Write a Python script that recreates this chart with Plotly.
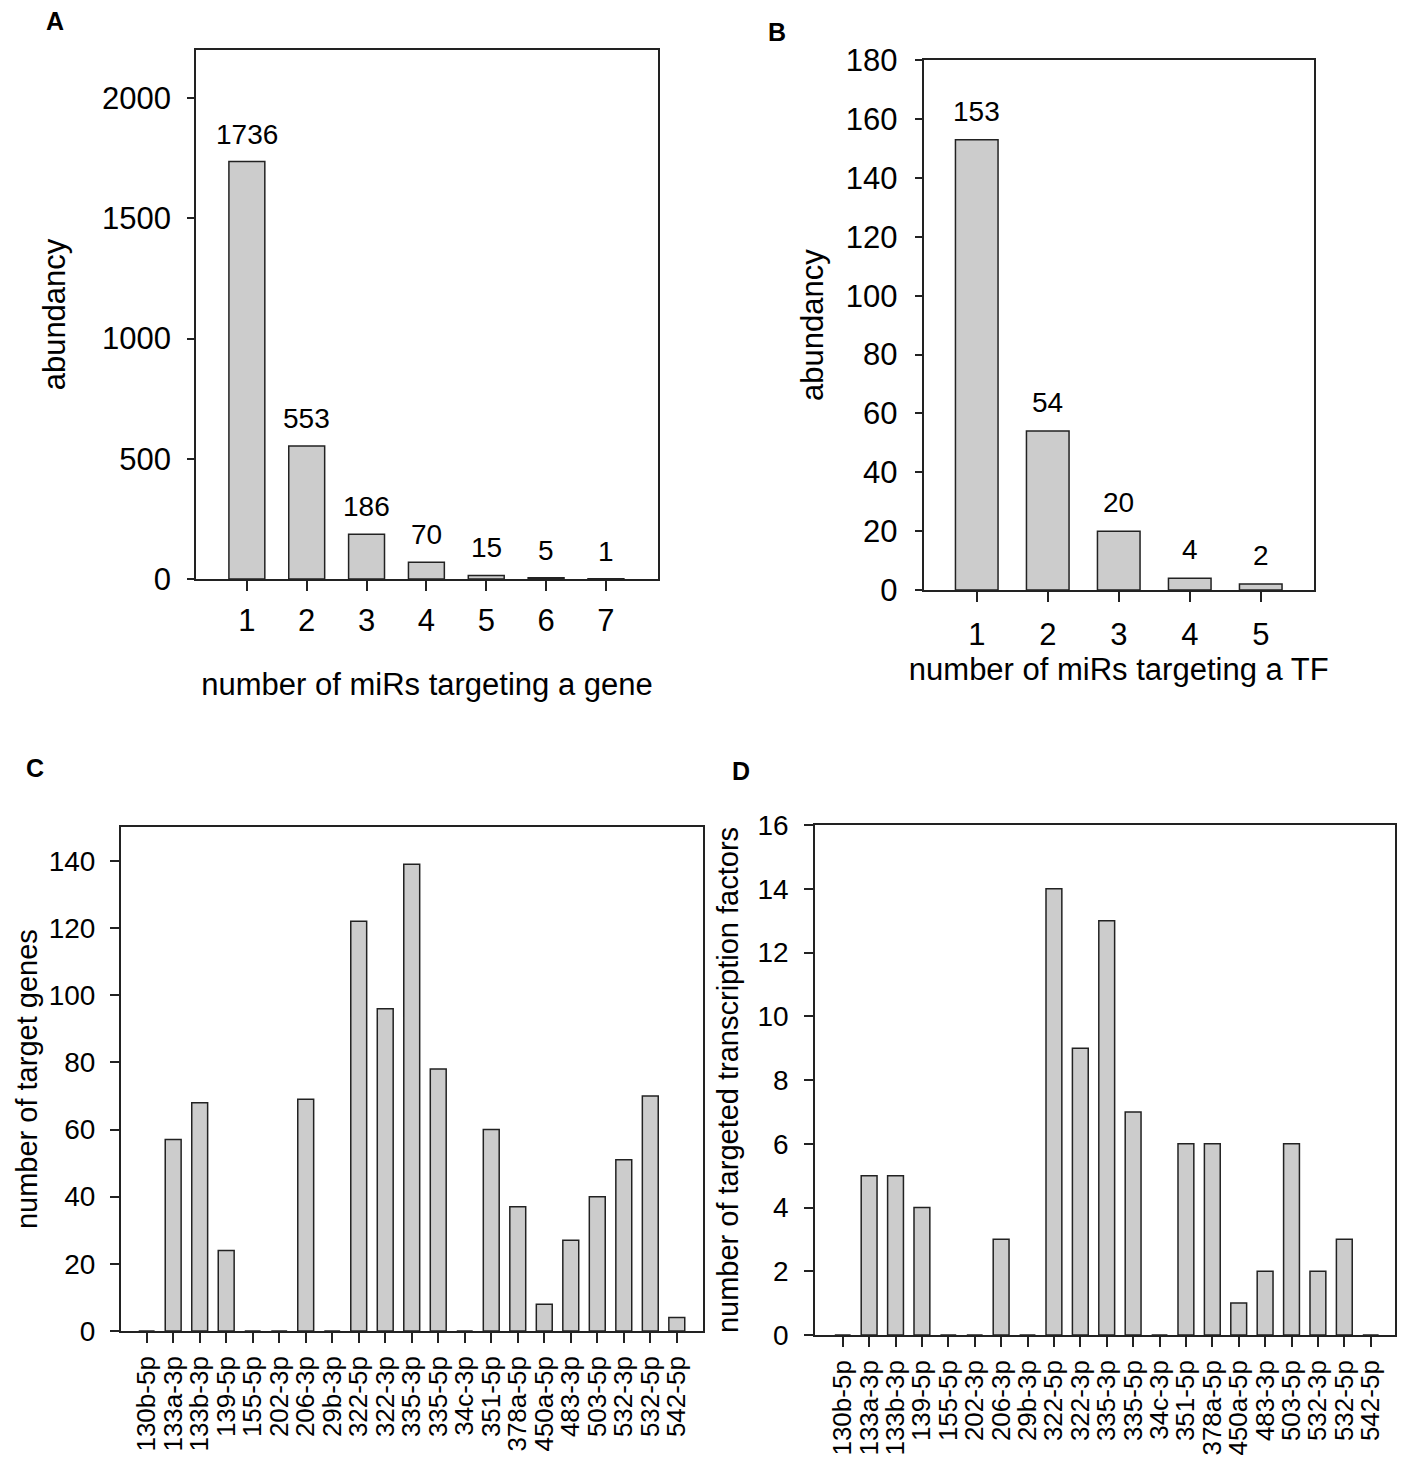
import plotly.graph_objects as go

# ---------------- data ----------------
a_x = [1, 2, 3, 4, 5, 6, 7]
a_y = [1736, 553, 186, 70, 15, 5, 1]

b_x = [1, 2, 3, 4, 5]
b_y = [153, 54, 20, 4, 2]

mirs = ["130b-5p", "133a-3p", "133b-3p", "139-5p", "155-5p", "202-3p", "206-3p",
        "29b-3p", "322-5p", "322-3p", "335-3p", "335-5p", "34c-3p", "351-5p",
        "378a-5p", "450a-5p", "483-3p", "503-5p", "532-3p", "532-5p", "542-5p"]
c_genes = [0, 57, 68, 24, 0, 0, 69, 0, 122, 96, 139, 78, 0, 60, 37, 8, 27, 40, 51, 70, 4]
d_tfs = [0, 5, 5, 4, 0, 0, 3, 0, 14, 9, 13, 7, 0, 6, 6, 1, 2, 6, 2, 3, 0]

# ---------------- styling ----------------
W, H = 1401, 1460
FONT = "Arial, Liberation Sans, sans-serif"
BAR_FILL = "#cccccc"
LINE = "#222222"


def xd(l, r):
    return [l / W, r / W]


def yd(t, b):
    return [1 - b / H, 1 - t / H]


fig = go.Figure()

bar_style = dict(marker=dict(color=BAR_FILL, line=dict(color=LINE, width=1.5)),
                 width=0.6, showlegend=False, hoverinfo="x+y")

fig.add_trace(go.Bar(x=a_x, y=a_y, xaxis="x", yaxis="y", **bar_style))
fig.add_trace(go.Bar(x=b_x, y=b_y, xaxis="x2", yaxis="y2", **bar_style))
fig.add_trace(go.Bar(x=mirs, y=c_genes, xaxis="x3", yaxis="y3", **bar_style))
fig.add_trace(go.Bar(x=mirs, y=d_tfs, xaxis="x4", yaxis="y4", **bar_style))


def axis(**kw):
    base = dict(showline=True, linecolor=LINE, linewidth=1.5, mirror=True,
                ticks="outside", tickcolor=LINE, tickwidth=1.5, automargin=False,
                showgrid=False, zeroline=False, fixedrange=True)
    base.update(kw)
    return base


big = dict(family=FONT, size=31, color="black")
mid = dict(family=FONT, size=28, color="black")
cat = dict(family=FONT, size=26, color="black")

fig.update_layout(
    width=W, height=H,
    margin=dict(l=0, r=0, t=0, b=0, autoexpand=False),
    paper_bgcolor="white", plot_bgcolor="white",
    bargap=0.4,
    font=dict(family=FONT, color="black"),
    # panel A
    xaxis=axis(domain=xd(196, 658), anchor="y", range=[0.15, 7.87],
               tickvals=a_x, ticklen=10, tickfont=big, ticklabelstandoff=3,
               title=dict(text="number of miRs targeting a gene", font=dict(family=FONT, size=31),
                          standoff=36)),
    yaxis=axis(domain=yd(50, 579), anchor="x", range=[0, 2200],
               tickvals=[0, 500, 1000, 1500, 2000], ticklen=7, tickfont=big,
               ticklabelstandoff=10,
               title=dict(text="abundancy", font=dict(family=FONT, size=31), standoff=27)),
    # panel B
    xaxis2=axis(domain=xd(923.5, 1314), anchor="y2", range=[0.25, 5.75],
                tickvals=b_x, ticklen=10, tickfont=big, ticklabelstandoff=6,
                title=dict(text="number of miRs targeting a TF", font=dict(family=FONT, size=31),
                           standoff=2)),
    yaxis2=axis(domain=yd(60.3, 590), anchor="x2", range=[0, 180],
                tickvals=list(range(0, 181, 20)), ticklen=7, tickfont=big,
                ticklabelstandoff=11,
                title=dict(text="abundancy", font=dict(family=FONT, size=31), standoff=13)),
    # panel C
    xaxis3=axis(domain=xd(120.7, 703.3), anchor="y3", type="category",
                range=[-0.98, 21.0], ticklen=10, tickfont=cat, tickangle=-90,
                tickmode="array", tickvals=mirs, ticktext=mirs,
                ticklabelstandoff=3),
    yaxis3=axis(domain=yd(827.3, 1331), anchor="x3", range=[0, 150],
                tickvals=list(range(0, 141, 20)), ticklen=9, tickfont=mid,
                ticklabelstandoff=9,
                title=dict(text="number of target genes", font=dict(family=FONT, size=29),
                           standoff=2)),
    # panel D
    xaxis4=axis(domain=xd(815, 1395), anchor="y4", type="category",
                range=[-1.05, 20.92], ticklen=10, tickfont=cat, tickangle=-90,
                tickmode="array", tickvals=mirs, ticktext=mirs,
                ticklabelstandoff=3),
    yaxis4=axis(domain=yd(825, 1335), anchor="x4", range=[0, 16],
                tickvals=list(range(0, 17, 2)), ticklen=9, tickfont=mid,
                ticklabelstandoff=10,
                title=dict(text="number of targeted transcription factors",
                           font=dict(family=FONT, size=29), standoff=10)),
)

# value labels above bars in A and B
for xv, yv in zip(a_x, a_y):
    fig.add_annotation(x=xv, y=yv, xref="x", yref="y", text=str(yv), showarrow=False,
                       yanchor="bottom", yshift=10, font=dict(family=FONT, size=28, color="black"))
for xv, yv in zip(b_x, b_y):
    fig.add_annotation(x=xv, y=yv, xref="x2", yref="y2", text=str(yv), showarrow=False,
                       yanchor="bottom", yshift=11, font=dict(family=FONT, size=28, color="black"))

# panel letters
for letter, px, py in [("A", 55, 21.5), ("B", 777, 31.5), ("C", 34.5, 767.5), ("D", 741, 771)]:
    fig.add_annotation(x=px / W, y=1 - py / H, xref="paper", yref="paper", text=f"<b>{letter}</b>",
                       showarrow=False, xanchor="center", yanchor="middle",
                       font=dict(family=FONT, size=25, color="black"))

# remove the page's default body margin so the figure sits at the window origin
fig.write_html("out.html",
               config={"displayModeBar": False},
               post_script="document.body.style.margin='0';document.body.style.overflow='hidden';")
